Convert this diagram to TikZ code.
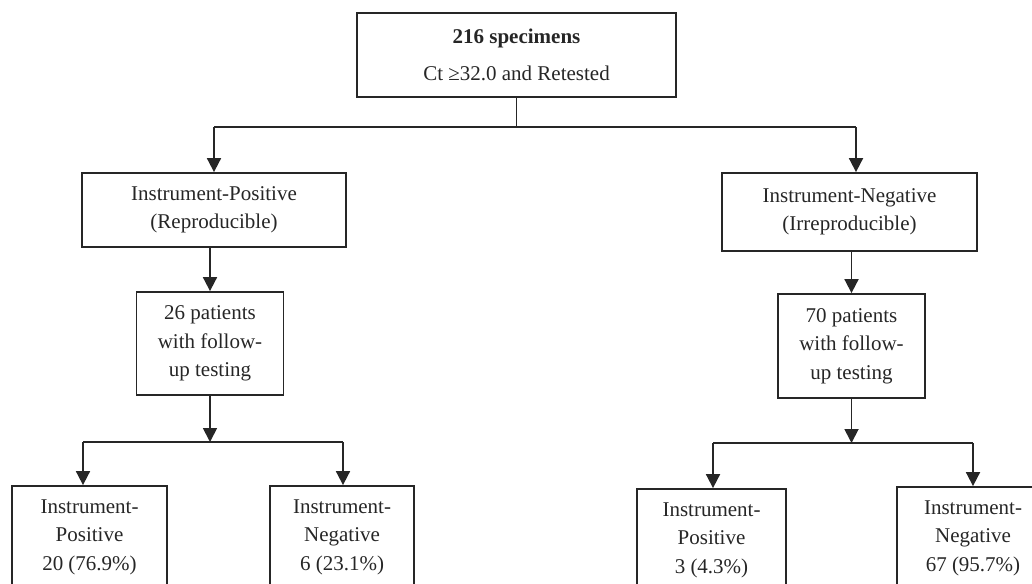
\documentclass[tikz,border=0pt]{standalone}
\usepackage{fontspec}
\setmainfont{Liberation Serif}
\usetikzlibrary{arrows.meta}
\definecolor{ink}{HTML}{262626}
\tikzset{
  box/.style={draw=ink, line width=1.8pt, align=center, inner sep=0pt, text=ink,
    font=\fontsize{21}{28.5}\selectfont},
  link/.style={draw=ink, line width=1.8pt},
  arr/.style={link, -{Triangle[width=14pt,length=14pt]}},
}
\begin{document}
\begin{tikzpicture}[x=1pt,y=-1pt]
\useasboundingbox (0,0) rectangle (1032,583);
\clip (0,0) rectangle (1032,583);
% nodes
\node[box, minimum width=319pt, minimum height=84pt] (top) at (516.5,55)
  {\textbf{216 specimens}\\[8pt]Ct ≥32.0 and Retested};
\node[box, minimum width=264pt, minimum height=74pt] (L1) at (214,210)
  {Instrument-Positive\\(Reproducible)};
\node[box, minimum width=255pt, minimum height=78pt] (R1) at (849.5,212)
  {Instrument-Negative\\(Irreproducible)};
\node[box, minimum width=147pt, minimum height=103pt] (L2) at (210,343.5)
  {26 patients\\with follow-\\up testing};
\node[box, minimum width=147pt, minimum height=104pt] (R2) at (851.5,346)
  {70 patients\\with follow-\\up testing};
\node[box, minimum width=155pt, minimum height=102pt] (LL) at (89.5,537)
  {Instrument-\\Positive\\20 (76.9\%)};
\node[box, minimum width=144pt, minimum height=102pt] (LR) at (342,537)
  {Instrument-\\Negative\\6 (23.1\%)};
\node[box, minimum width=149pt, minimum height=102pt] (RL) at (711.5,540)
  {Instrument-\\Positive\\3 (4.3\%)};
\node[box, minimum width=152pt, minimum height=102pt] (RR) at (973,538)
  {Instrument-\\Negative\\67 (95.7\%)};
% junction points
\coordinate (j1) at (214,127);
\coordinate (j2) at (856,127);
\coordinate (k1) at (83,442);
\coordinate (k2) at (343,442);
\coordinate (m1) at (713,443);
\coordinate (m2) at (973,443);
% connectors
\draw[link] (top.south) -- (top.south |- j1);
\draw[link] (j1) -- (j2);
\draw[arr] (j1) -- (j1 |- L1.north);
\draw[arr] (j2) -- (j2 |- R1.north);
\draw[arr] (L1.south -| L2.north) -- (L2.north);
\draw[arr] (R1.south -| R2.north) -- (R2.north);
\draw[arr] (L2.south) -- (L2.south |- k1);
\draw[arr] (R2.south) -- (R2.south |- m1);
\draw[link] (k1) -- (k2);
\draw[link] (m1) -- (m2);
\draw[arr] (k1) -- (k1 |- LL.north);
\draw[arr] (k2) -- (k2 |- LR.north);
\draw[arr] (m1) -- (m1 |- RL.north);
\draw[arr] (m2) -- (m2 |- RR.north);
\end{tikzpicture}
\end{document}
